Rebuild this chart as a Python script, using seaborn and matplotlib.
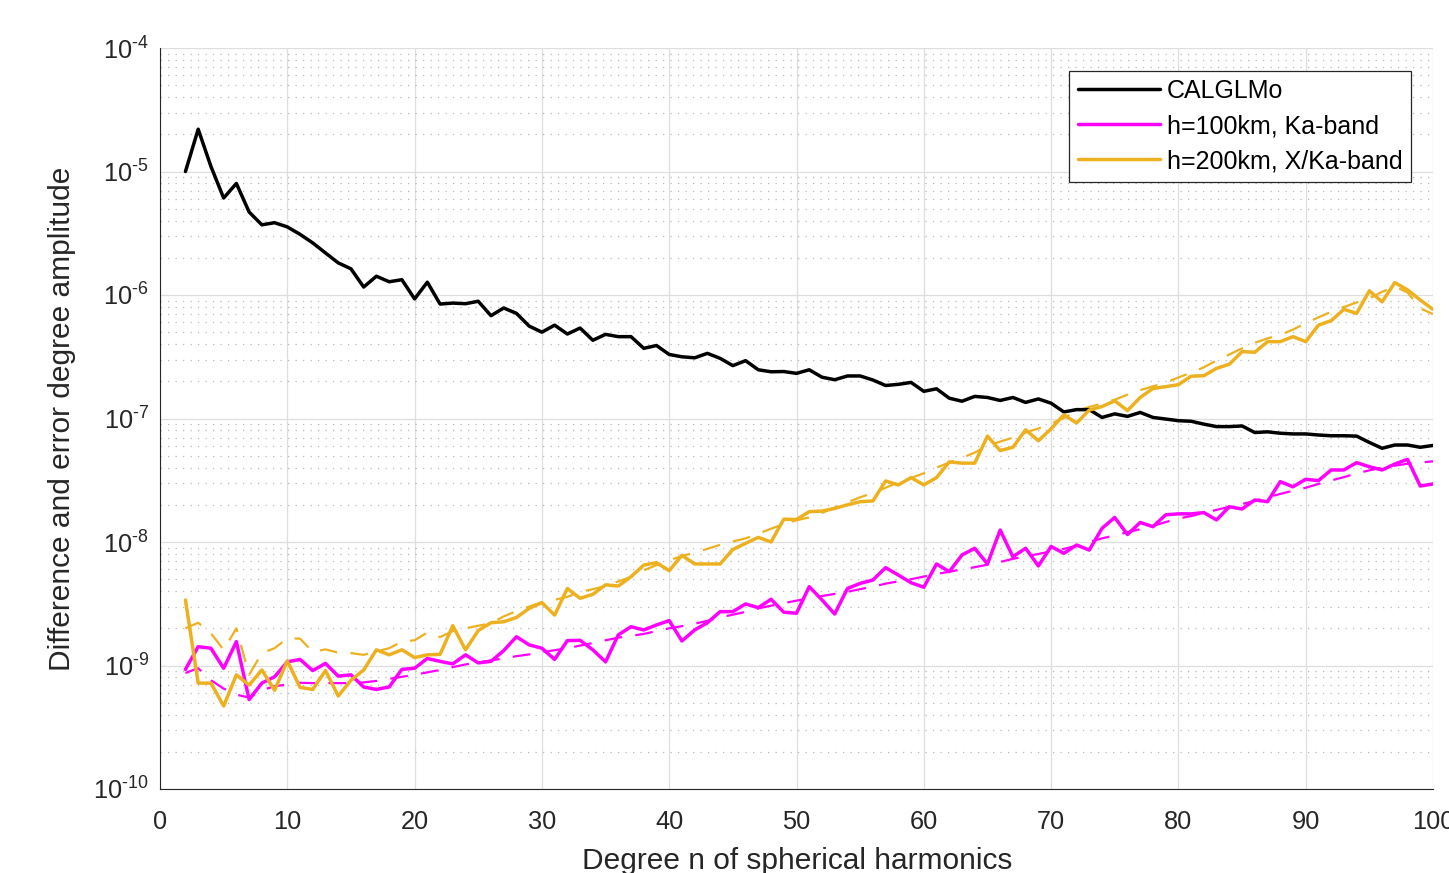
import numpy as np
import pandas as pd
import matplotlib
matplotlib.use("Agg")
import matplotlib.pyplot as plt
import matplotlib.ticker as mticker
import seaborn as sns

# ---------------- data ----------------
degree = list(range(2, 101))

calglmo = [1.0e-5, 2.2e-5, 1.1e-5, 6.1e-6, 8.0e-6, 4.7e-6, 3.7e-6, 3.85e-6, 3.56e-6,
           3.1e-6, 2.64e-6, 2.19e-6, 1.82e-6, 1.63e-6, 1.16e-6, 1.42e-6, 1.28e-6, 1.33e-6,
           9.3e-7, 1.27e-6, 8.45e-7, 8.6e-7, 8.5e-7, 8.9e-7, 6.8e-7, 7.85e-7, 7.1e-7,
           5.6e-7, 5.0e-7, 5.7e-7, 4.83e-7, 5.4e-7, 4.3e-7, 4.8e-7, 4.6e-7, 4.6e-7,
           3.7e-7, 3.9e-7, 3.3e-7, 3.16e-7, 3.1e-7, 3.37e-7, 3.07e-7, 2.68e-7, 2.94e-7,
           2.48e-7, 2.39e-7, 2.4e-7, 2.32e-7, 2.48e-7, 2.16e-7, 2.06e-7, 2.21e-7, 2.21e-7,
           2.05e-7, 1.85e-7, 1.89e-7, 1.96e-7, 1.66e-7, 1.74e-7, 1.46e-7, 1.38e-7, 1.51e-7,
           1.48e-7, 1.40e-7, 1.48e-7, 1.35e-7, 1.44e-7, 1.33e-7, 1.13e-7, 1.18e-7, 1.18e-7,
           1.02e-7, 1.09e-7, 1.04e-7, 1.12e-7, 1.02e-7, 9.9e-8, 9.6e-8, 9.5e-8, 9.0e-8,
           8.6e-8, 8.6e-8, 8.7e-8, 7.7e-8, 7.8e-8, 7.6e-8, 7.5e-8, 7.5e-8, 7.35e-8,
           7.25e-8, 7.25e-8, 7.2e-8, 6.4e-8, 5.74e-8, 6.1e-8, 6.1e-8, 5.85e-8, 6.05e-8]

h100_ka = [9.3e-10, 1.42e-9, 1.38e-9, 9.5e-10, 1.56e-9, 5.3e-10, 7.2e-10, 8.1e-10, 1.07e-9,
           1.12e-9, 9.1e-10, 1.04e-9, 8.2e-10, 8.4e-10, 6.7e-10, 6.4e-10, 6.7e-10, 9.3e-10,
           9.5e-10, 1.14e-9, 1.08e-9, 1.03e-9, 1.22e-9, 1.05e-9, 1.08e-9, 1.32e-9, 1.71e-9,
           1.47e-9, 1.38e-9, 1.12e-9, 1.59e-9, 1.6e-9, 1.34e-9, 1.07e-9, 1.77e-9, 2.06e-9,
           1.94e-9, 2.13e-9, 2.31e-9, 1.58e-9, 1.94e-9, 2.22e-9, 2.73e-9, 2.73e-9, 3.15e-9,
           2.94e-9, 3.44e-9, 2.7e-9, 2.65e-9, 4.35e-9, 3.4e-9, 2.61e-9, 4.2e-9, 4.62e-9,
           4.92e-9, 6.2e-9, 5.4e-9, 4.68e-9, 4.3e-9, 6.64e-9, 5.75e-9, 7.85e-9, 8.9e-9,
           6.64e-9, 1.25e-8, 7.6e-9, 8.9e-9, 6.4e-9, 9.2e-9, 8.1e-9, 9.45e-9, 8.6e-9,
           1.29e-8, 1.58e-8, 1.15e-8, 1.44e-8, 1.33e-8, 1.66e-8, 1.69e-8, 1.69e-8, 1.73e-8,
           1.51e-8, 1.93e-8, 1.85e-8, 2.19e-8, 2.12e-8, 3.08e-8, 2.8e-8, 3.22e-8, 3.14e-8,
           3.83e-8, 3.83e-8, 4.39e-8, 4.07e-8, 3.83e-8, 4.28e-8, 4.67e-8, 2.84e-8, 2.95e-8]

h200_xka = [3.39e-9, 7.2e-10, 7.2e-10, 4.7e-10, 8.4e-10, 6.95e-10, 9.2e-10, 6.3e-10, 1.09e-9,
            6.65e-10, 6.4e-10, 9.1e-10, 5.66e-10, 7.6e-10, 9.2e-10, 1.34e-9, 1.22e-9, 1.34e-9,
            1.16e-9, 1.22e-9, 1.23e-9, 2.1e-9, 1.34e-9, 1.92e-9, 2.22e-9, 2.26e-9, 2.45e-9,
            2.9e-9, 3.23e-9, 2.56e-9, 4.2e-9, 3.5e-9, 3.77e-9, 4.5e-9, 4.4e-9, 5.24e-9,
            6.5e-9, 6.8e-9, 5.86e-9, 7.8e-9, 6.64e-9, 6.64e-9, 6.64e-9, 8.7e-9, 9.75e-9,
            1.09e-8, 1.0e-8, 1.53e-8, 1.52e-8, 1.76e-8, 1.78e-8, 1.87e-8, 2.0e-8, 2.12e-8,
            2.15e-8, 3.12e-8, 2.9e-8, 3.32e-8, 2.9e-8, 3.32e-8, 4.45e-8, 4.35e-8, 4.35e-8,
            7.2e-8, 5.5e-8, 5.85e-8, 8.1e-8, 6.6e-8, 8.25e-8, 1.07e-7, 9.2e-8, 1.17e-7,
            1.25e-7, 1.39e-7, 1.16e-7, 1.48e-7, 1.75e-7, 1.81e-7, 1.88e-7, 2.2e-7, 2.22e-7,
            2.55e-7, 2.75e-7, 3.48e-7, 3.44e-7, 4.19e-7, 4.19e-7, 4.6e-7, 4.19e-7, 5.7e-7,
            6.2e-7, 7.65e-7, 7.1e-7, 1.08e-6, 8.8e-7, 1.26e-6, 1.1e-6, 9.1e-7, 7.65e-7]

h100_ka_dashed = [8.7e-10, 9.5e-10, 7.6e-10, 6.5e-10, 5.8e-10, 5.5e-10, 6.3e-10, 6.8e-10, 7.0e-10,
                  7.25e-10, 7.2e-10, 7.2e-10, 7.2e-10, 7.2e-10, 7.3e-10, 7.5e-10, 7.8e-10, 8.1e-10,
                  8.4e-10, 8.8e-10, 9.2e-10, 9.7e-10, 1.02e-9, 1.06e-9, 1.1e-9, 1.14e-9, 1.19e-9,
                  1.23e-9, 1.28e-9, 1.33e-9, 1.38e-9, 1.45e-9, 1.52e-9, 1.6e-9, 1.68e-9, 1.74e-9,
                  1.8e-9, 1.9e-9, 2.0e-9, 2.08e-9, 2.18e-9, 2.3e-9, 2.45e-9, 2.58e-9, 2.72e-9,
                  2.9e-9, 3.05e-9, 3.2e-9, 3.35e-9, 3.5e-9, 3.65e-9, 3.8e-9, 3.95e-9, 4.15e-9,
                  4.35e-9, 4.6e-9, 4.8e-9, 5.0e-9, 5.25e-9, 5.5e-9, 5.75e-9, 6.0e-9, 6.25e-9,
                  6.55e-9, 6.9e-9, 7.3e-9, 7.65e-9, 8.0e-9, 8.4e-9, 8.8e-9, 9.3e-9, 1.0e-8,
                  1.07e-8, 1.13e-8, 1.2e-8, 1.27e-8, 1.35e-8, 1.45e-8, 1.55e-8, 1.62e-8, 1.72e-8,
                  1.82e-8, 1.93e-8, 2.03e-8, 2.15e-8, 2.3e-8, 2.45e-8, 2.6e-8, 2.75e-8, 2.95e-8,
                  3.15e-8, 3.35e-8, 3.6e-8, 3.8e-8, 4.0e-8, 4.15e-8, 4.3e-8, 4.4e-8, 4.5e-8]

h200_xka_dashed = [2.0e-9, 2.22e-9, 1.82e-9, 1.34e-9, 2.0e-9, 8.4e-10, 1.26e-9, 1.38e-9, 1.66e-9,
                   1.65e-9, 1.29e-9, 1.35e-9, 1.27e-9, 1.26e-9, 1.22e-9, 1.3e-9, 1.38e-9, 1.56e-9,
                   1.6e-9, 1.85e-9, 1.7e-9, 1.9e-9, 2.0e-9, 2.1e-9, 2.2e-9, 2.5e-9, 2.75e-9,
                   3.0e-9, 3.25e-9, 3.4e-9, 3.6e-9, 3.95e-9, 4.15e-9, 4.4e-9, 4.8e-9, 5.2e-9,
                   5.9e-9, 6.5e-9, 7.1e-9, 7.7e-9, 8.2e-9, 8.8e-9, 9.5e-9, 1.01e-8, 1.07e-8,
                   1.17e-8, 1.28e-8, 1.4e-8, 1.5e-8, 1.58e-8, 1.72e-8, 1.9e-8, 2.1e-8, 2.3e-8,
                   2.5e-8, 2.75e-8, 3.05e-8, 3.3e-8, 3.6e-8, 4.0e-8, 4.4e-8, 4.8e-8, 5.3e-8,
                   6.0e-8, 6.5e-8, 7.0e-8, 7.7e-8, 8.3e-8, 9.1e-8, 1.01e-7, 1.15e-7, 1.24e-7,
                   1.32e-7, 1.42e-7, 1.56e-7, 1.7e-7, 1.82e-7, 1.95e-7, 2.15e-7, 2.35e-7, 2.6e-7,
                   2.95e-7, 3.3e-7, 3.7e-7, 4.1e-7, 4.45e-7, 4.75e-7, 5.25e-7, 5.9e-7, 6.6e-7,
                   7.3e-7, 8.0e-7, 8.7e-7, 9.4e-7, 1.06e-6, 1.17e-6, 1.05e-6, 7.8e-7, 7.0e-7]

series_labels = ["CALGLMo", "h=100km, Ka-band", "h=200km, X/Ka-band"]
x_label = "Degree n of spherical harmonics"
y_label = "Difference and error degree amplitude"

# ---------------- style ----------------
sns.set_theme(style="white")
plt.rcParams["font.family"] = ["Liberation Sans", "DejaVu Sans"]
plt.rcParams["mathtext.fontset"] = "custom"
plt.rcParams["mathtext.rm"] = "Liberation Sans"
plt.rcParams["mathtext.it"] = "Liberation Sans:italic"
plt.rcParams["mathtext.bf"] = "Liberation Sans:bold"

C_BLACK = "#000000"
C_MAG = "#FF00FF"
C_GOLD = "#EDB120"
AX_COL = "#262626"

fig = plt.figure(figsize=(14.49, 8.73), dpi=100)
ax = fig.add_axes([160 / 1449, 84 / 873, 1273 / 1449, 741 / 873])

df = pd.DataFrame({
    "degree": degree,
    "calglmo": calglmo,
    "h100": h100_ka,
    "h200": h200_xka,
    "h100d": h100_ka_dashed,
    "h200d": h200_xka_dashed,
})

dash_pat = (0, (8, 6))
sns.lineplot(data=df, x="degree", y="h200d", ax=ax, color=C_GOLD, lw=1.6,
             linestyle=dash_pat, legend=False)
sns.lineplot(data=df, x="degree", y="h100d", ax=ax, color=C_MAG, lw=1.6,
             linestyle=dash_pat, legend=False)
sns.lineplot(data=df, x="degree", y="calglmo", ax=ax, color=C_BLACK, lw=2.5,
             label=series_labels[0])
sns.lineplot(data=df, x="degree", y="h100", ax=ax, color=C_MAG, lw=2.5,
             label=series_labels[1])
sns.lineplot(data=df, x="degree", y="h200", ax=ax, color=C_GOLD, lw=2.5,
             label=series_labels[2])

ax.set_yscale("log")
ax.set_xlim(0, 100)
ax.set_ylim(1e-10, 1e-4)

ax.set_xticks(np.arange(0, 101, 10))
ax.yaxis.set_major_locator(mticker.LogLocator(base=10, numticks=20))
ax.yaxis.set_minor_locator(mticker.LogLocator(base=10, subs=np.arange(2, 10), numticks=100))
ax.yaxis.set_minor_formatter(mticker.NullFormatter())
ax.xaxis.set_minor_locator(mticker.NullLocator())


def dec_fmt(v, pos):
    k = int(round(np.log10(v)))
    if k < 0:
        return r"$10^{\text{-}%d}$" % (-k)
    return r"$10^{%d}$" % k


ax.yaxis.set_major_formatter(mticker.FuncFormatter(dec_fmt))

ax.tick_params(axis="both", which="major", direction="in", length=9.4, width=0.8,
               color=AX_COL, labelcolor=AX_COL, labelsize=18.3)
ax.tick_params(axis="x", which="major", pad=15)
ax.tick_params(axis="y", which="major", pad=8)
ax.tick_params(axis="y", which="minor", direction="in", length=5, width=0.8, color=AX_COL)
ax.tick_params(top=False, right=False)

for side in ["top", "right"]:
    ax.spines[side].set_visible(False)
for side in ["left", "bottom"]:
    ax.spines[side].set_color(AX_COL)
    ax.spines[side].set_linewidth(0.8)

ax.grid(True, which="major", axis="both", color="#dedede", lw=0.9)
ax.yaxis.grid(True, which="minor", color="#b8b8b8", lw=0.9, linestyle=(0, (1, 5)))
ax.set_axisbelow(True)

ax.set_xlabel(x_label, fontsize=21.5, color=AX_COL)
ax.set_ylabel(y_label, fontsize=21.5, color=AX_COL)
ax.xaxis.set_label_coords(0.5004, -0.078)
ax.yaxis.set_label_coords(-0.066, 0.5)

leg = ax.legend(loc="upper right", bbox_to_anchor=((1410.7 - 160) / 1273, (789 - 70.7) / 741),
                borderaxespad=0, fontsize=18, frameon=True, fancybox=False,
                framealpha=1, edgecolor=AX_COL, handlelength=3.3, handletextpad=0.25,
                labelspacing=0.44, borderpad=0.34)
leg.get_frame().set_linewidth(0.9)
for t in leg.get_texts():
    t.set_color("#000000")

fig.savefig("out.png", dpi=100)
